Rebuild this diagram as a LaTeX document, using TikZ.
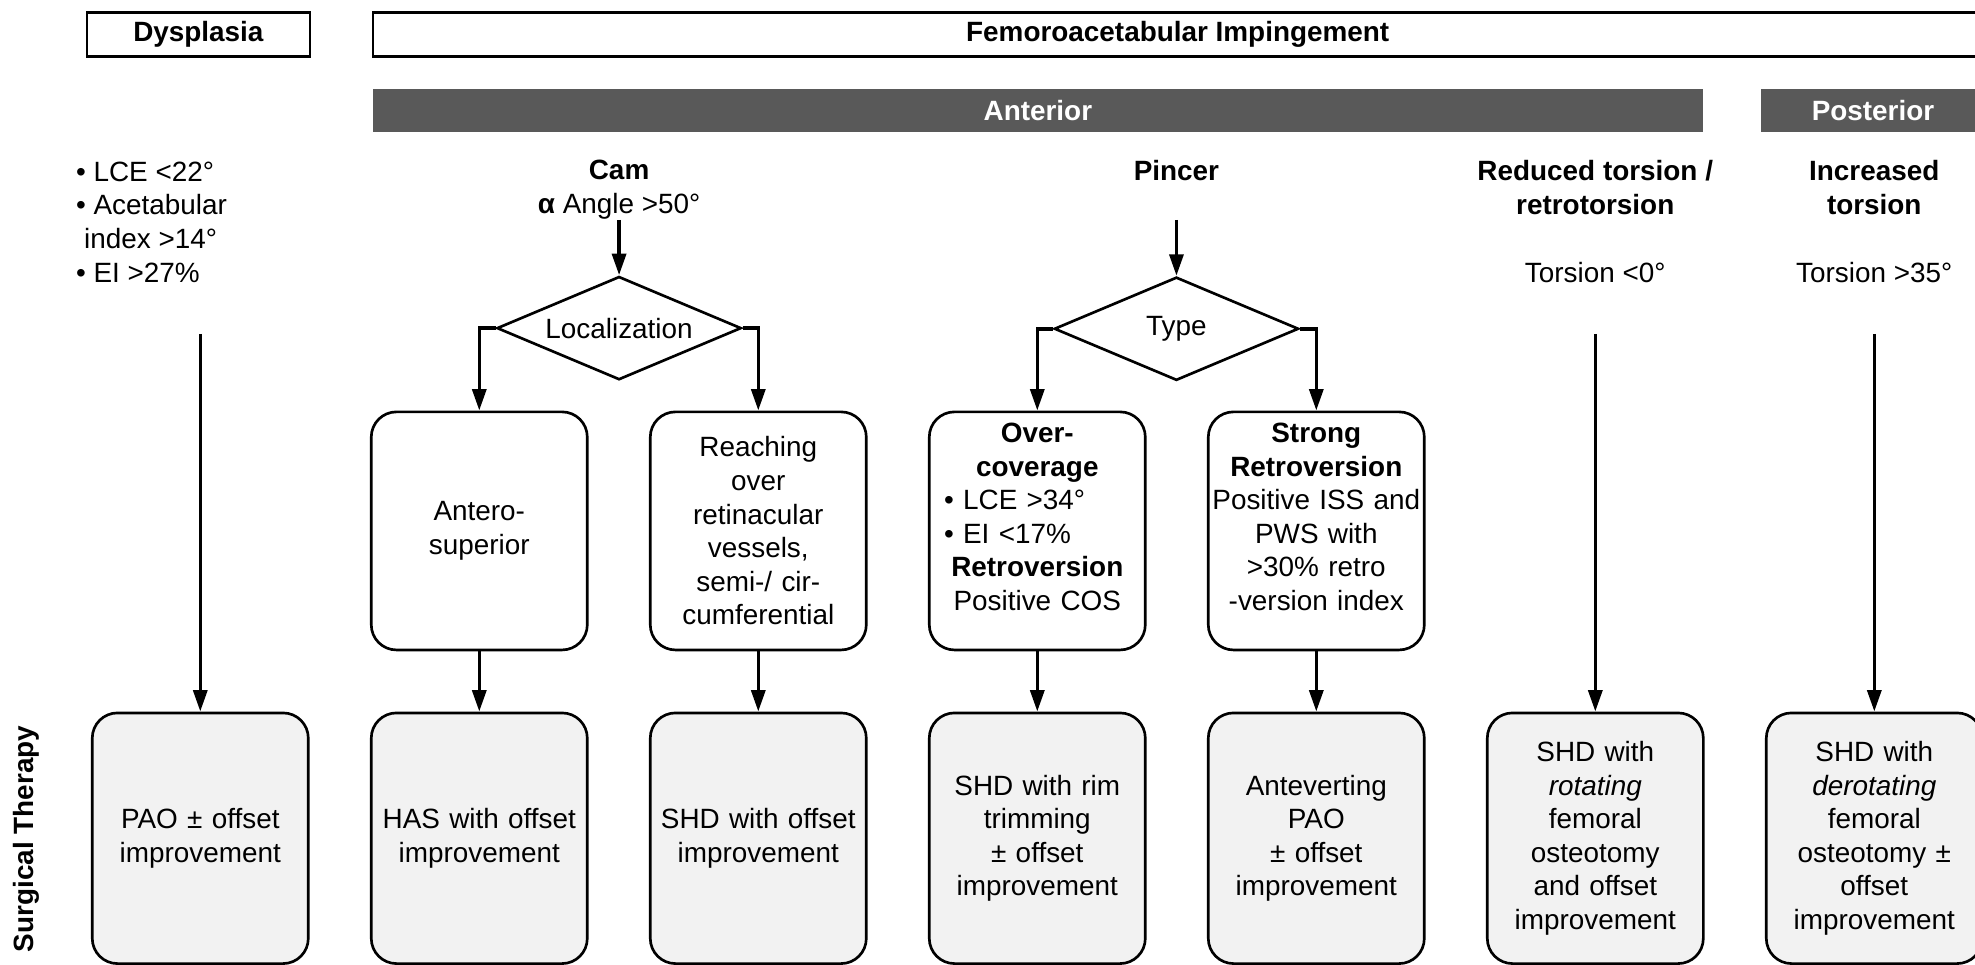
\documentclass[tikz,border=0pt]{standalone}
\usepackage{fontspec}
\setmainfont{Liberation Sans}
\usepackage{xcolor}
\usepackage{tikz}
\usetikzlibrary{arrows.meta, positioning, shapes.geometric}

\definecolor{bargray}{HTML}{595959}
\definecolor{therapygray}{HTML}{F2F2F2}

\begin{document}
\fontsize{12.6pt}{15.2pt}\selectfont
\begin{tikzpicture}[
  topbox/.style={draw, line width=1.2pt, minimum height=0.7cm, inner sep=0pt, font=\bfseries},
  bar/.style={fill=bargray, minimum height=0.68cm, inner sep=0pt, text=white, font=\bfseries},
  head/.style={anchor=north, inner sep=0pt, align=center},
  decision/.style={diamond, draw, line width=1.2pt, aspect=2.37, minimum width=3.88cm, minimum height=1.64cm, inner sep=0pt},
  box/.style={draw, line width=1.2pt, rounded corners=0.4cm, minimum width=3.43cm, minimum height=3.78cm, text width=3.4cm, align=center, inner sep=0pt},
  therapy/.style={box, fill=therapygray, minimum height=3.98cm},
  arrow/.style={-{Triangle[length=0.34cm, width=0.22cm]}, line width=1.6pt}
]
\useasboundingbox (0,0) rectangle (31.36,-15.32);

% TOP ROW
\node[topbox, minimum width=3.54cm] (dys) at (3.15,-0.55) {Dysplasia};
\node[topbox, minimum width=25.56cm] (fai) at (18.70,-0.55) {Femoroacetabular Impingement};

% ANTERIOR / POSTERIOR
\node[bar, minimum width=21.12cm] (ant) at (16.48,-1.76) {Anterior};
\node[bar, minimum width=3.56cm] (post) at (29.74,-1.76) {Posterior};

% CRITERIA
\node[head, anchor=north west, align=left] (dyscrit) at (1.2,-2.56) {• LCE <22°\\• Acetabular\\\hspace{0.13cm}index >14°\\• EI >27\%};
\node[head] (cam) at (9.83,-2.54) {\textbf{Cam}\\\textbf{α} Angle >50°};
\node[head] (pincer) at (18.68,-2.54) {\textbf{Pincer}};
\node[head] (reduced) at (25.33,-2.54) {\textbf{Reduced torsion /}\\\textbf{retrotorsion}};
\node[head] (increased) at (29.76,-2.54) {\textbf{Increased}\\\textbf{torsion}};
\node[head] (retro) at (25.33,-4.16) {Torsion <0°};
\node[head] (ante) at (29.76,-4.16) {Torsion >35°};

% DECISIONS
\node[decision] (loc) at (9.83,-5.21) {Localization};
\node[decision] (type) at (18.68,-5.22) {Type};

% SURGICAL THERAPY
\node[rotate=90, font=\bfseries] (surg) at (0.42,-13.32) {Surgical Therapy};
\node[therapy] (pao) at (3.18,-13.31) {PAO ± offset\\improvement};
\node[therapy, right=0.958cm of pao] (has) {HAS with offset\\improvement};
\node[therapy, right=0.958cm of has] (shd) {SHD with offset\\improvement};
\node[therapy, right=0.958cm of shd] (rim) {SHD with rim\\trimming\\± offset\\improvement};
\node[therapy, right=0.958cm of rim] (antev) {Anteverting\\PAO\\± offset\\improvement};
\node[therapy, right=0.958cm of antev] (rot) {SHD with\\\textit{rotating}\\femoral\\osteotomy\\and offset\\improvement};
\node[therapy, right=0.958cm of rot] (derot) {SHD with\\\textit{derotating}\\femoral\\osteotomy ±\\offset\\improvement};

% FINDINGS
\node[box, above=0.958cm of has] (antero) {Antero-\\superior};
\node[box, above=0.958cm of shd] (reach) {Reaching\\over\\retinacular\\vessels,\\semi-/ cir-\\cumferential};
\node[box, above=0.958cm of rim] (over) {\textbf{Over-}\\\textbf{coverage}\\\makebox[2.96cm][l]{• LCE >34°}\\\makebox[2.96cm][l]{• EI <17\%}\\\textbf{Retroversion}\\Positive COS\rule[-0.45cm]{0pt}{0pt}};
\node[box, above=0.958cm of antev] (strong) {\textbf{Strong}\\\textbf{Retroversion}\\Positive ISS and\\PWS with\\>30\% retro\\-version index\rule[-0.45cm]{0pt}{0pt}};

% Arrow start points
\coordinate (pincer-in) at (pincer |- cam.south);
\coordinate (dys-in) at (pao.north |- 0,-5.3);
\coordinate (retro-in) at (rot.north |- 0,-5.3);
\coordinate (ante-in) at (derot.north |- 0,-5.3);

% Connections
\draw[arrow] (cam.south) -- (loc.north);
\draw[arrow] (pincer-in) -- (type.north);
\draw[arrow] (loc.west) -| (antero.north);
\draw[arrow] (loc.east) -| (reach.north);
\draw[arrow] (type.west) -| (over.north);
\draw[arrow] (type.east) -| (strong.north);

\draw[arrow] (dys-in) -- (pao.north);
\draw[arrow] (antero) -- (has);
\draw[arrow] (reach) -- (shd);
\draw[arrow] (over) -- (rim);
\draw[arrow] (strong) -- (antev);
\draw[arrow] (retro-in) -- (rot.north);
\draw[arrow] (ante-in) -- (derot.north);

\end{tikzpicture}
\end{document}
